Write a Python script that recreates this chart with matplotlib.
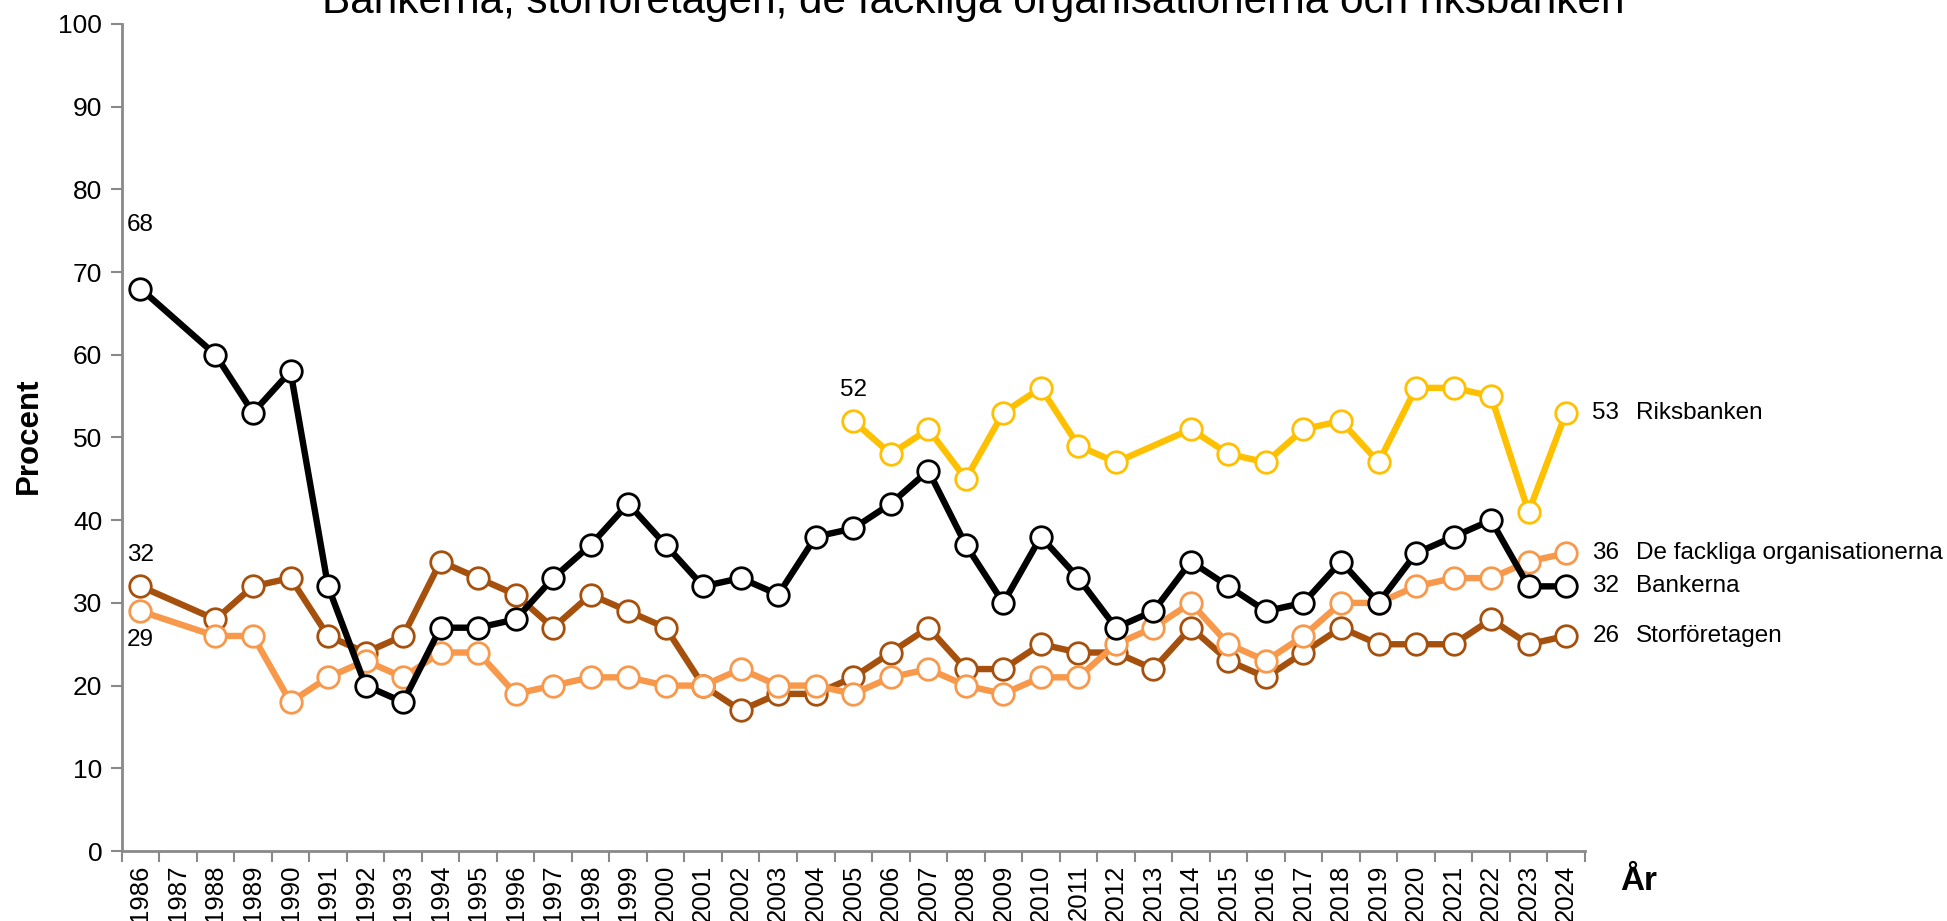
import numpy as np
import matplotlib
matplotlib.use("Agg")
import matplotlib.pyplot as plt

plt.rcParams["font.family"] = ["Liberation Sans", "DejaVu Sans"]

years = list(range(1986, 2025))

bankerna = [68, None, 60, 53, 58, 32, 20, 18, 27, 27, 28, 33, 37, 42, 37, 32, 33, 31, 38,
            39, 42, 46, 37, 30, 38, 33, 27, 29, 35, 32, 29, 30, 35, 30, 36, 38, 40, 32, 32]
storforetagen = [32, None, 28, 32, 33, 26, 24, 26, 35, 33, 31, 27, 31, 29, 27, 20, 17, 19, 19,
                 21, 24, 27, 22, 22, 25, 24, 24, 22, 27, 23, 21, 24, 27, 25, 25, 25, 28, 25, 26]
fackliga = [29, None, 26, 26, 18, 21, 23, 21, 24, 24, 19, 20, 21, 21, 20, 20, 22, 20, 20,
            19, 21, 22, 20, 19, 21, 21, 25, 27, 30, 25, 23, 26, 30, 30, 32, 33, 33, 35, 36]
riksbanken = [None] * 19 + [52, 48, 51, 45, 53, 56, 49, 47, None, 51, 48, 47, 51, 52, 47,
                            56, 56, 55, 41, 53]

series = [
    ("Storföretagen", storforetagen, "#A5500C"),
    ("De fackliga organisationerna", fackliga, "#F7984A"),
    ("Bankerna", bankerna, "#000000"),
    ("Riksbanken", riksbanken, "#FFC000"),
]

fs = 17.5

fig = plt.figure(figsize=(19.47, 9.21), dpi=100)
ax = fig.add_axes([0.0625, 0.076, 0.7515, 0.898])

for name, vals, col in series:
    idx = [i for i, v in enumerate(vals) if v is not None]
    yv = [vals[i] for i in idx]
    ax.plot(idx, yv, color=col, lw=4.6, marker="o", markersize=15.5,
            markerfacecolor="white", markeredgecolor=col, markeredgewidth=2.0,
            solid_joinstyle="round", zorder=3)
    last = len(vals) - 1
    ax.text(last + 0.7, vals[last], f"{vals[last]}", fontsize=fs, va="center", ha="left")
    ax.text(last + 1.85, vals[last], name, fontsize=fs, va="center", ha="left")

# start labels
ax.text(0, bankerna[0] + 6.3, "68", fontsize=fs, ha="center", va="bottom")
ax.text(0, storforetagen[0] + 2.4, "32", fontsize=fs, ha="center", va="bottom")
ax.text(0, fackliga[0] - 2.2, "29", fontsize=fs, ha="center", va="top")
ax.text(19, riksbanken[19] + 2.4, "52", fontsize=fs, ha="center", va="bottom")

ax.set_xlim(-0.5, len(years) - 0.5)
ax.set_ylim(0, 100)
ax.set_yticks(range(0, 101, 10))
ax.set_xticks(range(len(years)))
ax.set_xticklabels([str(y) for y in years], rotation=90, fontsize=18.5)
ax.set_xticks(np.arange(-0.5, len(years), 1.0), minor=True)
ax.tick_params(axis="x", which="major", length=0, pad=10)
ax.tick_params(axis="x", which="minor", length=8, width=1.5, color="#898989")
ax.tick_params(axis="y", length=8, width=1.5, color="#898989", labelsize=19, pad=6)

for s in ["top", "right"]:
    ax.spines[s].set_visible(False)
for s in ["left", "bottom"]:
    ax.spines[s].set_color("#898989")
    ax.spines[s].set_linewidth(2)

fig.text(0.0149, 0.527, "Procent", fontsize=22.5, fontweight="bold", rotation=90,
         ha="center", va="center")
fig.text(0.832, 0.043, "År", fontsize=24, fontweight="bold", ha="left", va="center")

fig.text(0.5, 0.986, "Bankerna, storföretagen, de fackliga organisationerna och riksbanken",
         fontsize=30.4, ha="center", va="baseline")

fig.savefig("out.png", dpi=100)
plt.close(fig)
